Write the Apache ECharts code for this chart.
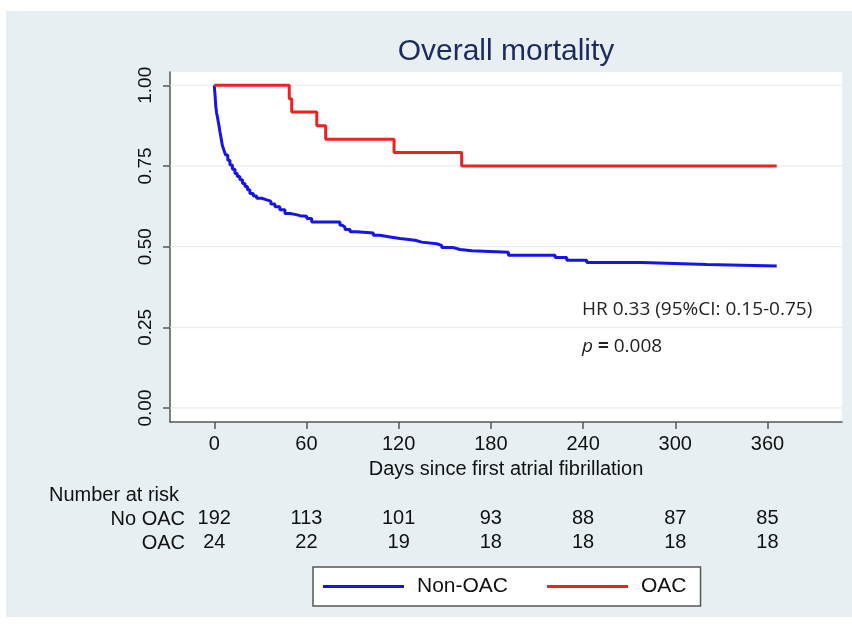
<!DOCTYPE html>
<html><head><meta charset="utf-8">
<script src="https://cdn.jsdelivr.net/npm/echarts@6/dist/echarts.min.js"></script>
<style>
html,body{margin:0;padding:0;background:#fff}
#bg{position:absolute;left:6px;top:11px;width:846px;height:606px;background:#e7eff2}
#c{position:absolute;left:0;top:0;width:852px;height:628px}
</style>
</head><body><div id="bg"></div><div id="c"></div>
<script>
const nonOacDays = [0,0.5,1,1.5,2.2,3,3.7,4.5,5.2,6.3,7.4,8.8,10.2,11.8,13.5,15,16.7,18.4,20,21.6,23.2,25.4,27.6,31,34.1,36.8,39.5,42.7,46,49.3,52.5,55.8,60.2,63.4,81.8,83.5,85.1,88.4,92.7,103.5,107.9,114.4,120.9,130.7,135,144.8,148,155.6,160,167.6,191.4,221.8,229.4,242.4,278.3,320.6,366];
const nonOacSurv = [1,0.97,0.934,0.915,0.898,0.877,0.856,0.835,0.815,0.799,0.784,0.768,0.753,0.740,0.727,0.717,0.707,0.696,0.686,0.676,0.665,0.657,0.650,0.645,0.641,0.632,0.624,0.614,0.603,0.600,0.596,0.594,0.587,0.576,0.566,0.560,0.553,0.546,0.542,0.535,0.530,0.525,0.520,0.514,0.509,0.504,0.497,0.491,0.487,0.483,0.473,0.466,0.458,0.4505,0.445,0.440,0.440];
const oacDays = [0,48.8,50.4,66.7,72.5,117,161,366];
const oacSurv = [1,0.958,0.917,0.875,0.833,0.792,0.75,0.75];
const xTicks = [0,60,120,180,240,300,360];
const yTicks = [0,0.25,0.5,0.75,1];
const riskNoOac = [192,113,101,93,88,87,85];
const riskOac = [24,22,19,18,18,18,18];
const seriesNames = ['Non-OAC','OAC'];

const FONT = '"Liberation Sans", Arial, sans-serif';
const ANN_FONT = '"Open Sans", sans-serif';
const X_MIN = -28.8, X_MAX = 408.5, Y_MIN = -0.0434, Y_MAX = 1.0412;
const zip = (a,b) => a.map((v,i) => [v,b[i]]);

const axisLineStyle = {color:'#555', width:1.5};
function riskAxis(values, offset){
  return {
    type:'value', gridIndex:0, position:'bottom', offset:offset,
    min:X_MIN, max:X_MAX,
    axisLine:{show:false}, axisTick:{show:false}, splitLine:{show:false},
    axisLabel:{customValues:xTicks, fontSize:20, fontFamily:FONT, color:'#111', margin:12,
      formatter:v => String(values[xTicks.indexOf(v)])}
  };
}

const gridSeries = yTicks.map(v => ({
  type:'line', name:'grid'+v, data:[[X_MIN, v],[X_MAX, v]], silent:true, z:1,
  symbol:'none', lineStyle:{color:'#e3ebf2', width:1}
}));

const chart = echarts.init(document.getElementById('c'), null, {renderer:'canvas'});
chart.setOption({
  backgroundColor:'transparent',
  animation:false,
  grid:{left:170, top:72, right:10, bottom:206, show:true, backgroundColor:'#fff', borderWidth:0, containLabel:false},
  xAxis:[
    {type:'value', min:X_MIN, max:X_MAX,
     axisLine:{show:true, onZero:false, lineStyle:axisLineStyle},
     axisTick:{show:true, customValues:xTicks, length:7, lineStyle:axisLineStyle},
     axisLabel:{customValues:xTicks, fontSize:20, fontFamily:FONT, color:'#111', margin:12},
     splitLine:{show:false}},
    riskAxis(riskNoOac, 74),
    riskAxis(riskOac, 98)
  ],
  yAxis:{type:'value', min:Y_MIN, max:Y_MAX,
     axisLine:{show:true, onZero:false, lineStyle:axisLineStyle},
     axisTick:{show:true, customValues:yTicks, length:7, lineStyle:axisLineStyle},
     axisLabel:{customValues:yTicks, rotate:90, fontSize:19, fontFamily:FONT, color:'#111', margin:15,
       formatter:v => v.toFixed(2)},
     splitLine:{show:false}},
  legend:{
    data:seriesNames, left:313, top:567, orient:'horizontal',
    icon:'rect', itemWidth:81, itemHeight:3, itemGap:39,
    padding:[9,14,9,10], borderColor:'#555', borderWidth:1.5, backgroundColor:'#fff',
    textStyle:{fontSize:21, fontFamily:FONT, color:'#111', padding:[0,0,0,8]},
    selectedMode:false
  },
  series:gridSeries.concat([
    {type:'line', name:seriesNames[0], step:'end', data:zip(nonOacDays, nonOacSurv),
     symbol:'none', z:3, color:'#1515e8', lineStyle:{color:'#1515e8', width:3}},
    {type:'line', name:seriesNames[1], step:'end', data:zip(oacDays, oacSurv),
     symbol:'none', z:3, color:'#ea2222', lineStyle:{color:'#ea2222', width:3}}
  ]),
  graphic:[
    {type:'text', x:506, y:52, style:{text:'Overall mortality', font:'30px '+FONT, fill:'#1c2a5c', textAlign:'center', textVerticalAlign:'middle'}},
    {type:'text', x:506, y:469, style:{text:'Days since first atrial fibrillation', font:'20px '+FONT, fill:'#111', textAlign:'center', textVerticalAlign:'middle'}},
    {type:'text', x:49, y:495, style:{text:'Number at risk', font:'20px '+FONT, fill:'#111', textAlign:'left', textVerticalAlign:'middle'}},
    {type:'text', x:185, y:519, style:{text:'No OAC', font:'20px '+FONT, fill:'#111', textAlign:'right', textVerticalAlign:'middle'}},
    {type:'text', x:185, y:543, style:{text:'OAC', font:'20px '+FONT, fill:'#111', textAlign:'right', textVerticalAlign:'middle'}},
    {type:'text', x:582, y:310, style:{text:'HR 0.33 (95%CI: 0.15-0.75)', font:'19px '+ANN_FONT, fill:'#222', textAlign:'left', textVerticalAlign:'middle'}},
    {type:'text', x:582, y:347, style:{text:'{i|p} {b|=} 0.008', font:'19px '+ANN_FONT, fill:'#222', textAlign:'left', textVerticalAlign:'middle',
      rich:{i:{fontStyle:'italic', fontSize:19, fontFamily:ANN_FONT}, b:{fontWeight:'bold', fontSize:19, fontFamily:ANN_FONT}}}}
  ]
});
</script>
</body></html>
